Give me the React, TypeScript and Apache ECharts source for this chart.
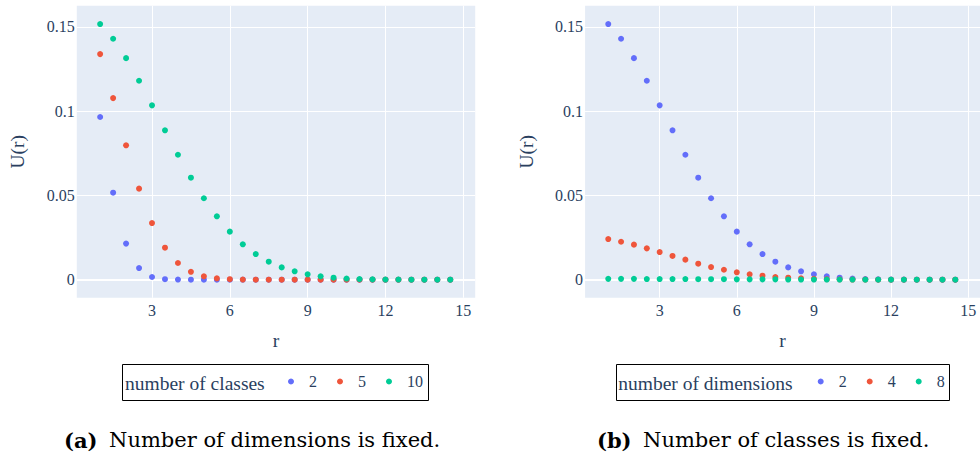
import React, { useEffect, useRef } from "react";
import * as echarts from "echarts";

const rValues = [1, 1.5, 2, 2.5, 3, 3.5, 4, 4.5, 5, 5.5, 6, 6.5, 7, 7.5, 8, 8.5, 9, 9.5, 10, 10.5, 11, 11.5, 12, 12.5, 13, 13.5, 14, 14.5];

// (a) number of dimensions fixed, varying number of classes
const classes2 = [0.0965, 0.0516, 0.0214, 0.0069, 0.0016, 0.0003, 0.0001, 0, 0, 0, 0, 0, 0, 0, 0, 0, 0, 0, 0, 0, 0, 0, 0, 0, 0, 0, 0, 0];
const classes5 = [0.1338, 0.1077, 0.0797, 0.054, 0.0336, 0.019, 0.0099, 0.0047, 0.002, 0.0008, 0.0003, 0.0001, 0, 0, 0, 0, 0, 0, 0, 0, 0, 0, 0, 0, 0, 0, 0, 0];
const classes10 = [0.1516, 0.1429, 0.1314, 0.118, 0.1034, 0.0886, 0.0741, 0.0605, 0.0483, 0.0376, 0.0285, 0.021, 0.0152, 0.0107, 0.0073, 0.005, 0.0032, 0.002, 0.0012, 0.0007, 0.0004, 0.0002, 0.0001, 0.0001, 0, 0, 0, 0];

// (b) number of classes fixed, varying number of dimensions
const dims2 = [0.1516, 0.1429, 0.1314, 0.118, 0.1034, 0.0886, 0.0741, 0.0605, 0.0483, 0.0376, 0.0285, 0.021, 0.0152, 0.0107, 0.0073, 0.005, 0.0032, 0.002, 0.0012, 0.0007, 0.0004, 0.0002, 0.0001, 0.0001, 0, 0, 0, 0];
const dims4 = [0.0241, 0.0225, 0.0208, 0.0186, 0.0164, 0.0141, 0.0119, 0.0095, 0.0075, 0.0059, 0.0044, 0.0032, 0.0024, 0.0016, 0.0012, 0.0008, 0.0005, 0.0003, 0.0002, 0.0001, 0.0001, 0, 0, 0, 0, 0, 0, 0];
const dims8 = [0.0005, 0.0005, 0.0005, 0.0004, 0.0004, 0.0004, 0.0004, 0.0003, 0.0003, 0.0003, 0.0002, 0.0002, 0.0002, 0.0002, 0.0001, 0.0001, 0.0001, 0.0001, 0.0001, 0.0001, 0, 0, 0, 0, 0, 0, 0, 0];

const xTicks = [3, 6, 9, 12, 15];
const yTicks = [0, 0.05, 0.1, 0.15];
const leftNames = ["2", "5", "10"];
const rightNames = ["2", "4", "8"];
const leftLegendTitle = "number of classes";
const rightLegendTitle = "number of dimensions";
const yTitle = "U(r)";
const xTitle = "r";
const captionA = ["(a)", "Number of dimensions is fixed."];
const captionB = ["(b)", "Number of classes is fixed."];

const COLORS = ["#636efa", "#EF553B", "#00cc96"];
const TXT = "#2a3f5f";
const SERIF = "'Liberation Serif', 'Times New Roman', serif";
const CAP = "'DejaVu Serif', serif";

export default function App() {
  const ref = useRef<HTMLDivElement>(null);
  useEffect(() => {
    document.body.style.margin = "0";
    const chart = echarts.init(ref.current!, null, { renderer: "svg" });

    const grids = [
      { left: 76.8, top: 5.7, width: 398.4, height: 292 },
      { left: 585.1, top: 5.7, width: 398.4, height: 292 },
    ];

    const xAxis = grids.map((_, gi) => ({
      type: "value",
      gridIndex: gi,
      min: 0.1,
      max: 15.46,
      axisLine: { show: false },
      axisTick: { show: false, customValues: xTicks },
      axisLabel: {
        customValues: xTicks,
        fontFamily: SERIF,
        fontSize: 16,
        color: TXT,
        margin: 5,
      },
      splitLine: { show: true, lineStyle: { color: "#ffffff", width: 1 } },
      name: xTitle,
      nameLocation: "middle",
      nameGap: 33,
      nameTextStyle: { fontFamily: SERIF, fontSize: 19.5, color: TXT },
    }));

    const yAxis = grids.map((_, gi) => ({
      type: "value",
      gridIndex: gi,
      min: -0.01067,
      max: 0.1625,
      axisLine: { show: false },
      axisTick: { show: false, customValues: yTicks },
      axisLabel: {
        customValues: yTicks,
        fontFamily: SERIF,
        fontSize: 16,
        color: TXT,
        margin: 2,
        formatter: (v: number) => (v === 0 ? "0" : String(v)),
      },
      splitLine: { show: true, lineStyle: { color: "#ffffff", width: 1 } },
      name: yTitle,
      nameLocation: "middle",
      nameGap: 49,
      nameTextStyle: { fontFamily: SERIF, fontSize: 19.5, color: TXT },
    }));

    const mk = (name: string, vals: number[], color: string, gi: number) => ({
      type: "scatter",
      name,
      xAxisIndex: gi,
      yAxisIndex: gi,
      data: rValues.map((r, i) => [r, vals[i]]),
      symbol: "circle",
      symbolSize: 6,
      itemStyle: { color, opacity: 1 },
      z: 3,
      silent: true,
    });

    const zero = (gi: number) => ({
      type: "scatter",
      name: "zero" + gi,
      xAxisIndex: gi,
      yAxisIndex: gi,
      data: [],
      z: 1,
      silent: true,
      markLine: {
        silent: true,
        z: 1,
        symbol: ["none", "none"],
        label: { show: false },
        lineStyle: { color: "#ffffff", width: 2, type: "solid" },
        data: [{ yAxis: 0 }],
        animation: false,
      },
    });

    const legendCommon = {
      orient: "horizontal",
      top: 373.5,
      padding: 0,
      icon: "circle",
      itemWidth: 6,
      itemHeight: 6,
      itemGap: 20,
      selectedMode: false,
      textStyle: {
        fontFamily: SERIF,
        fontSize: 16,
        color: TXT,
        padding: [0, 0, 0, 10],
      },
    };

    const option = {
      animation: false,
      backgroundColor: "#ffffff",
      grid: grids.map((g) => ({
        ...g,
        show: true,
        backgroundColor: "#E5ECF6",
        borderWidth: 0,
      })),
      xAxis,
      yAxis,
      legend: [
        { ...legendCommon, left: 288, data: leftNames },
        { ...legendCommon, left: 817.7, data: rightNames },
      ],
      series: [
        zero(0),
        zero(1),
        mk(leftNames[0], classes2, COLORS[0], 0),
        mk(leftNames[1], classes5, COLORS[1], 0),
        mk(leftNames[2], classes10, COLORS[2], 0),
        mk(rightNames[0], dims2, COLORS[0], 1),
        mk(rightNames[1], dims4, COLORS[1], 1),
        mk(rightNames[2], dims8, COLORS[2], 1),
      ],
      graphic: [
        {
          type: "rect",
          shape: { x: 122.5, y: 364.5, width: 306, height: 36 },
          style: { fill: "none", stroke: "#000", lineWidth: 1 },
          z: 10,
        },
        {
          type: "rect",
          shape: { x: 616.5, y: 364.5, width: 333, height: 36 },
          style: { fill: "none", stroke: "#000", lineWidth: 1 },
          z: 10,
        },
        {
          type: "text",
          x: 125,
          y: 383,
          style: {
            text: leftLegendTitle,
            fontFamily: SERIF,
            fontSize: 19.5,
            fill: TXT,
            verticalAlign: "middle",
            align: "left",
          },
          z: 10,
        },
        {
          type: "text",
          x: 618.3,
          y: 383,
          style: {
            text: rightLegendTitle,
            fontFamily: SERIF,
            fontSize: 19.5,
            fill: TXT,
            verticalAlign: "middle",
            align: "left",
          },
          z: 10,
        },
        {
          type: "text",
          x: 64,
          y: 440,
          style: { text: captionA[0], fontFamily: CAP, fontWeight: "bold", fontSize: 21, fill: "#000", verticalAlign: "middle" },
        },
        {
          type: "text",
          x: 109,
          y: 440,
          style: { text: captionA[1], fontFamily: CAP, fontSize: 21, fill: "#000", verticalAlign: "middle" },
        },
        {
          type: "text",
          x: 597,
          y: 440,
          style: { text: captionB[0], fontFamily: CAP, fontWeight: "bold", fontSize: 21, fill: "#000", verticalAlign: "middle" },
        },
        {
          type: "text",
          x: 643,
          y: 440,
          style: { text: captionB[1], fontFamily: CAP, fontSize: 21, fill: "#000", verticalAlign: "middle" },
        },
      ],
    };

    chart.setOption(option as any);
    return () => chart.dispose();
  }, []);

  return (
    <div
      ref={ref}
      style={{ position: "absolute", left: 0, top: 0, width: 980, height: 453 }}
    />
  );
}
